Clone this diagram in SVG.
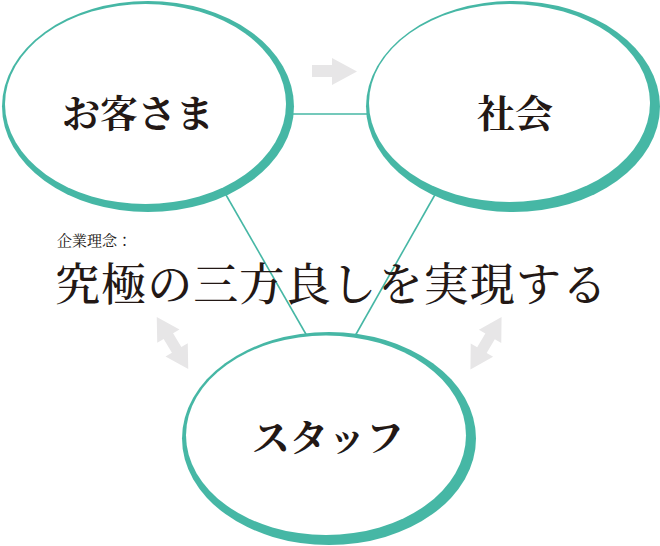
<svg xmlns="http://www.w3.org/2000/svg" width="660" height="546" viewBox="0 0 660 546">
  <style>
    .ring { fill: #46b7a5; }
    .inner { fill: #ffffff; }
    .conn { stroke: #46b7a5; stroke-width: 1.6; fill: none; }
    .arrow { fill: #e7e6e7; }
    .title { font-family: "Noto Serif CJK JP", "Noto Sans CJK JP", serif; font-size: 38px; font-weight: 700; fill: #231815; text-anchor: middle; }
    .sub { font-family: "Noto Serif CJK JP", "Noto Sans CJK JP", serif; font-size: 15px; fill: #231815; }
    .main { font-family: "Noto Serif CJK JP", "Noto Sans CJK JP", serif; font-size: 45px; font-weight: 500; fill: #231815; }
  </style>
  <defs>
    <polygon id="dbl" points="-30.5,0 -8,-13 -8,-5.5 8,-5.5 8,-13 30.5,0 8,13 8,5.5 -8,5.5 -8,13"/>
  </defs>
  <g id="connectors">
    <line class="conn" x1="280" y1="114" x2="372" y2="114"/>
    <line class="conn" x1="218" y1="181" x2="307" y2="336"/>
    <line class="conn" x1="441" y1="184" x2="355" y2="336"/>
    <polygon class="arrow" points="312,65 332,65 332,58 357,71.5 332,85 332,77 312,77"/>
    <use href="#dbl" class="arrow" transform="translate(172.5,343) rotate(58.9)"/>
    <use href="#dbl" class="arrow" transform="translate(486,343.3) rotate(-59.3)"/>
  </g>
  <g id="node-customer">
    <ellipse class="ring" cx="148" cy="106.5" rx="146" ry="105.5"/>
    <ellipse class="inner" cx="145.5" cy="104" rx="140.5" ry="100"/>
    <text class="title" x="138" y="127">お客さま</text>
  </g>
  <g id="node-society">
    <ellipse class="ring" cx="513" cy="106.5" rx="147" ry="105.5"/>
    <ellipse class="inner" cx="509.5" cy="103" rx="140.5" ry="99"/>
    <text class="title" x="515" y="127">社会</text>
  </g>
  <g id="node-staff">
    <ellipse class="ring" cx="329" cy="438.5" rx="147" ry="106.5"/>
    <ellipse class="inner" cx="326" cy="435.25" rx="140" ry="99.75"/>
    <text class="title" x="328" y="451">スタッフ</text>
  </g>
  <g id="philosophy">
    <text class="sub" x="57" y="246">企業理念：</text>
    <text class="main" x="55" y="301" textLength="552" lengthAdjust="spacing">究極の三方良しを実現する</text>
  </g>
</svg>
